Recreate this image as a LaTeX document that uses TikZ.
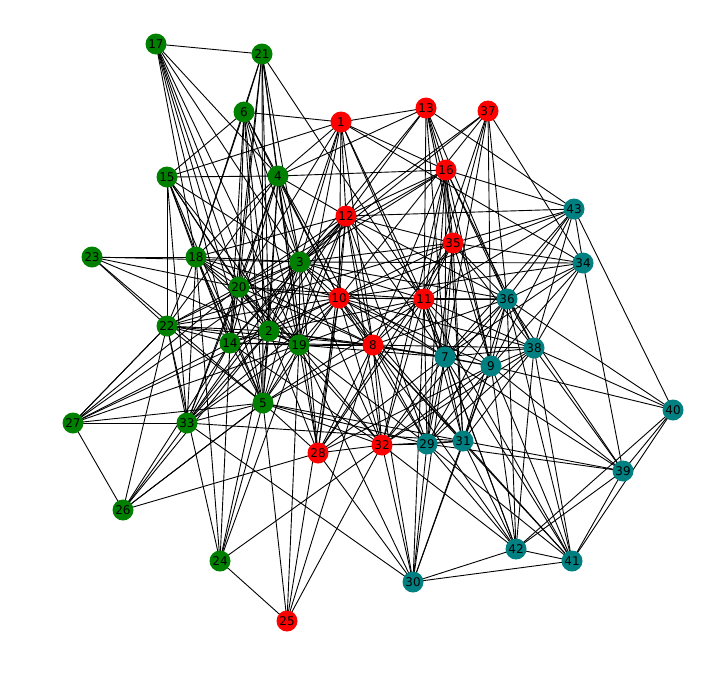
\documentclass[tikz,border=0pt]{standalone}
\usepackage{fontspec}
\setmainfont{DejaVu Sans}
\usetikzlibrary{backgrounds}
\definecolor{gnode}{HTML}{008000}
\definecolor{rnode}{HTML}{FF0000}
\definecolor{tnode}{HTML}{008080}
\tikzset{
  vtx/.style={circle, inner sep=0pt, minimum size=21pt, text=black, font=\fontsize{12}{14}\selectfont},
  gv/.style={vtx, fill=gnode},
  rv/.style={vtx, fill=rnode},
  tv/.style={vtx, fill=tnode},
  edgeline/.style={draw=black, line width=0.9pt}
}
\begin{document}
\begin{tikzpicture}[x=1pt,y=-1pt]
\useasboundingbox (0,0) rectangle (715,683);
% green
\node[gv] (n17) at (156,44) {17};
\node[gv] (n21) at (262,54) {21};
\node[gv] (n6) at (244,112) {6};
\node[gv] (n15) at (167,177) {15};
\node[gv] (n4) at (278,176) {4};
\node[gv] (n23) at (92,257) {23};
\node[gv] (n18) at (196,257) {18};
\node[gv] (n3) at (300,262) {3};
\node[gv] (n20) at (239,287) {20};
\node[gv] (n22) at (167,326) {22};
\node[gv] (n2) at (269,331) {2};
\node[gv] (n14) at (230,343) {14};
\node[gv] (n19) at (299,345) {19};
\node[gv] (n27) at (73,423) {27};
\node[gv] (n33) at (187,423) {33};
\node[gv] (n5) at (263,403) {5};
\node[gv] (n26) at (123,510) {26};
\node[gv] (n24) at (220,561) {24};
% red
\node[rv] (n1) at (341,122) {1};
\node[rv] (n13) at (426,108) {13};
\node[rv] (n37) at (488,111) {37};
\node[rv] (n16) at (446,170) {16};
\node[rv] (n12) at (346,216) {12};
\node[rv] (n35) at (453,243) {35};
\node[rv] (n10) at (339,298) {10};
\node[rv] (n11) at (424,299) {11};
\node[rv] (n8) at (373,345) {8};
\node[rv] (n28) at (318,453) {28};
\node[rv] (n32) at (382,445) {32};
\node[rv] (n25) at (287,621) {25};
% teal
\node[tv] (n43) at (574,209) {43};
\node[tv] (n34) at (583,263) {34};
\node[tv] (n36) at (507,299) {36};
\node[tv] (n38) at (534,348) {38};
\node[tv] (n7) at (445,357) {7};
\node[tv] (n9) at (491,366) {9};
\node[tv] (n40) at (673,410) {40};
\node[tv] (n29) at (427,444) {29};
\node[tv] (n31) at (463,441) {31};
\node[tv] (n39) at (623,471) {39};
\node[tv] (n42) at (516,549) {42};
\node[tv] (n41) at (572,561) {41};
\node[tv] (n30) at (413,582) {30};
\begin{scope}[on background layer]
\foreach \a/\b in {
17/21,17/18,17/4,17/20,17/14,17/2,17/19,17/5,17/3,
21/6,21/18,21/4,21/20,21/2,21/19,21/3,21/11,21/14,21/5,
6/1,6/15,6/18,6/20,6/4,6/3,6/19,6/2,6/5,6/14,6/10,
15/4,15/1,15/22,15/18,15/20,15/3,15/2,15/14,15/19,15/5,15/33,
4/13,4/16,4/12,4/3,4/20,4/18,4/2,4/19,4/14,4/5,4/33,4/22,4/10,4/8,4/1,4/28,
23/18,23/22,23/5,23/20,23/19,23/3,
18/3,18/22,18/20,18/14,18/2,18/19,18/5,18/33,18/24,18/10,18/8,18/12,
3/34,3/1,3/12,3/13,3/16,3/37,3/35,3/20,3/2,3/14,3/19,3/22,3/5,3/33,3/10,3/11,3/36,3/8,3/28,3/32,3/27,3/7,
20/22,20/2,20/14,20/19,20/5,20/33,20/27,20/1,20/12,20/16,20/10,20/8,20/11,20/32,
22/2,22/19,22/14,22/5,22/33,22/27,22/26,22/24,22/10,22/8,22/35,
2/14,2/19,2/5,2/33,2/27,2/26,2/24,2/10,2/11,2/8,2/12,2/1,2/28,2/7,
14/19,14/5,14/33,14/27,14/26,14/24,14/10,14/12,14/8,14/32,
19/5,19/33,19/24,19/25,19/10,19/11,19/8,19/7,19/12,19/28,19/32,19/29,19/1,19/30,
27/33,27/26,27/22,27/5,27/19,
33/5,33/26,33/31,33/10,33/12,
5/24,5/25,5/26,5/28,5/32,5/10,5/8,5/12,5/29,5/11,5/31,
26/28,26/5,24/25,24/32,
25/10,25/8,25/32,
28/10,28/8,28/12,28/11,28/7,28/32,28/30,28/9,28/35,
32/29,32/31,32/10,32/8,32/11,32/7,32/9,32/36,32/30,32/42,32/38,32/12,32/16,
10/11,10/12,10/1,10/8,10/7,10/36,10/38,10/34,10/43,10/29,10/31,10/9,10/35,10/37,
11/35,11/16,11/13,11/36,11/38,11/7,11/9,11/29,11/31,11/41,11/42,11/30,11/43,11/8,11/12,11/1,11/37,
8/7,8/9,8/38,8/36,8/29,8/31,8/1,8/12,8/16,8/35,8/41,8/42,8/30,
12/1,12/16,12/37,12/35,12/29,12/7,12/36,12/43,
35/13,35/16,35/37,35/7,35/9,35/31,35/29,35/36,35/38,35/34,35/43,
16/13,16/43,16/1,16/7,16/9,16/38,16/36,16/29,16/31,
13/1,13/7,13/9,13/36,13/43,13/12,
37/34,37/36,37/9,37/7,
1/7,1/34,
36/43,36/34,36/38,36/9,36/7,36/29,36/31,36/42,36/41,36/39,36/40,
38/43,38/34,38/9,38/7,38/40,38/39,38/41,38/42,38/29,38/31,
7/9,7/43,7/34,7/29,7/31,7/30,7/42,7/41,7/39,
9/43,9/34,9/29,9/31,9/42,9/41,9/39,9/40,9/30,
43/34,43/40,34/39,
29/31,29/30,29/42,29/41,29/39,
31/30,31/42,31/39,31/41,
30/42,30/41,30/33,
39/40,39/42,39/41,40/42,40/41,41/42}
  \draw[edgeline] (n\a.center) -- (n\b.center);
\end{scope}
\end{tikzpicture}
\end{document}
